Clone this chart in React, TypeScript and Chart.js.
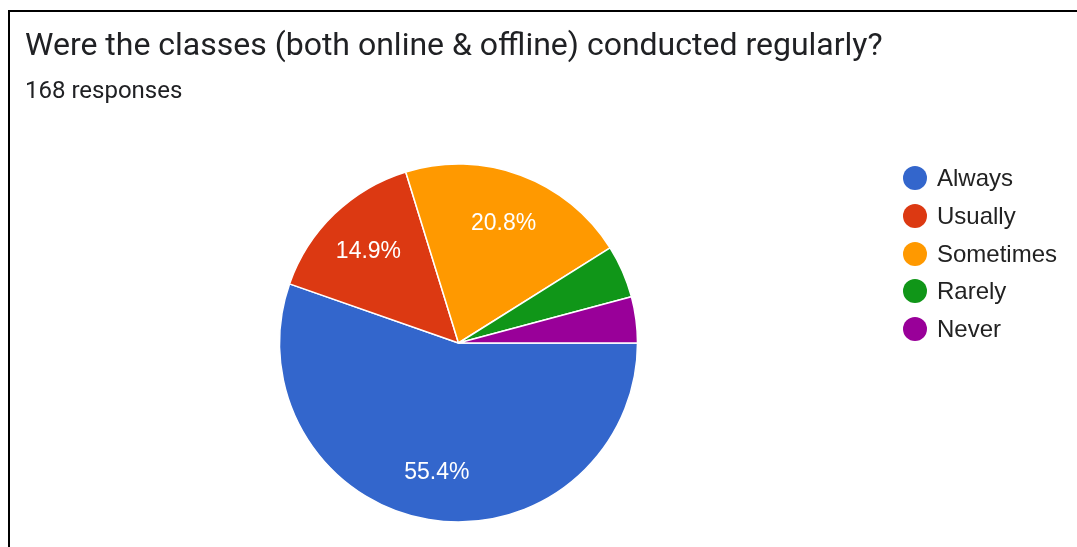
import React, { useEffect, useRef } from "react";
import { Chart, registerables } from "chart.js";

Chart.register(...registerables);

const categories = ["Always", "Usually", "Sometimes", "Rarely", "Never"];
const responses = [93, 25, 35, 8, 7];
const colors = ["#3366cc", "#dc3912", "#ff9900", "#109618", "#990099"];
const titleText = "Were the classes (both online & offline) conducted regularly?";
const subtitleText = "168 responses";

const LABEL_PX = 23;

const labelPlugin = {
  id: "pctLabels",
  afterDatasetsDraw(chart: any) {
    const ctx = chart.ctx;
    const meta = chart.getDatasetMeta(0);
    const data = chart.data.datasets[0].data as number[];
    const total = data.reduce((a, b) => a + b, 0);
    ctx.save();
    ctx.fillStyle = "#ffffff";
    ctx.font = LABEL_PX + "px 'Liberation Sans', Arial, sans-serif";
    ctx.textAlign = "center";
    ctx.textBaseline = "alphabetic";
    meta.data.forEach((arc: any, i: number) => {
      const frac = data[i] / total;
      if (frac < 0.1) return;
      const { x, y, startAngle, endAngle, outerRadius } = arc.getProps(
        ["x", "y", "startAngle", "endAngle", "outerRadius"],
        true
      );
      const mid = (startAngle + endAngle) / 2;
      const r = outerRadius * 0.725;
      ctx.fillText(
        (frac * 100).toFixed(1) + "%",
        x + Math.cos(mid) * r,
        y + Math.sin(mid) * r + LABEL_PX * 0.358
      );
    });
    ctx.restore();
  },
};

export default function App() {
  const ref = useRef<HTMLCanvasElement | null>(null);
  useEffect(() => {
    if (!ref.current) return;
    const chart = new Chart(ref.current, {
      type: "pie",
      data: {
        labels: categories,
        datasets: [
          {
            data: responses,
            backgroundColor: colors,
            borderColor: "#ffffff",
            borderWidth: 1.5,
            hoverOffset: 0,
            offset: 0,
          },
        ],
      },
      options: {
        animation: false,
        responsive: false,
        rotation: 90,
        radius: 179,
        layout: { padding: { left: 268.5, top: 151, right: 271.5, bottom: 19 } },
        plugins: { legend: { display: false }, tooltip: { enabled: false } },
      },
      plugins: [labelPlugin],
    });
    return () => chart.destroy();
  }, []);

  return (
    <div
      style={{
        position: "fixed",
        left: 8,
        top: 10,
        width: 1100,
        height: 560,
        borderTop: "2px solid #000",
        borderLeft: "2px solid #000",
        background: "#fff",
        overflow: "hidden",
      }}
    >
      <canvas
        ref={ref}
        width={900}
        height={530}
        style={{ position: "absolute", left: 0, top: 0, width: 900, height: 530 }}
      />
      <div
        style={{
          position: "absolute",
          left: 15,
          top: 16,
          fontFamily: "Roboto, sans-serif",
          fontSize: 32,
          lineHeight: "32px",
          color: "#202124",
          whiteSpace: "nowrap",
        }}
      >
        {titleText}
      </div>
      <div
        style={{
          position: "absolute",
          left: 15,
          top: 65.8,
          fontFamily: "Roboto, sans-serif",
          fontSize: 24,
          lineHeight: "24px",
          color: "#202124",
          whiteSpace: "nowrap",
        }}
      >
        {subtitleText}
      </div>
      {categories.map((c, i) => (
        <div
          key={c}
          style={{
            position: "absolute",
            left: 893,
            top: 166.5 - 18.8 + i * 37.6,
            height: 37.6,
            display: "flex",
            alignItems: "center",
            whiteSpace: "nowrap",
          }}
        >
          <span
            style={{
              width: 24,
              height: 24,
              borderRadius: "50%",
              background: colors[i],
              display: "inline-block",
              flex: "none",
            }}
          />
          <span
            style={{
              marginLeft: 10,
              fontFamily: "'Liberation Sans', Arial, sans-serif",
              fontSize: 24,
              lineHeight: "24px",
              color: "#222222",
            }}
          >
            {c}
          </span>
        </div>
      ))}
    </div>
  );
}
